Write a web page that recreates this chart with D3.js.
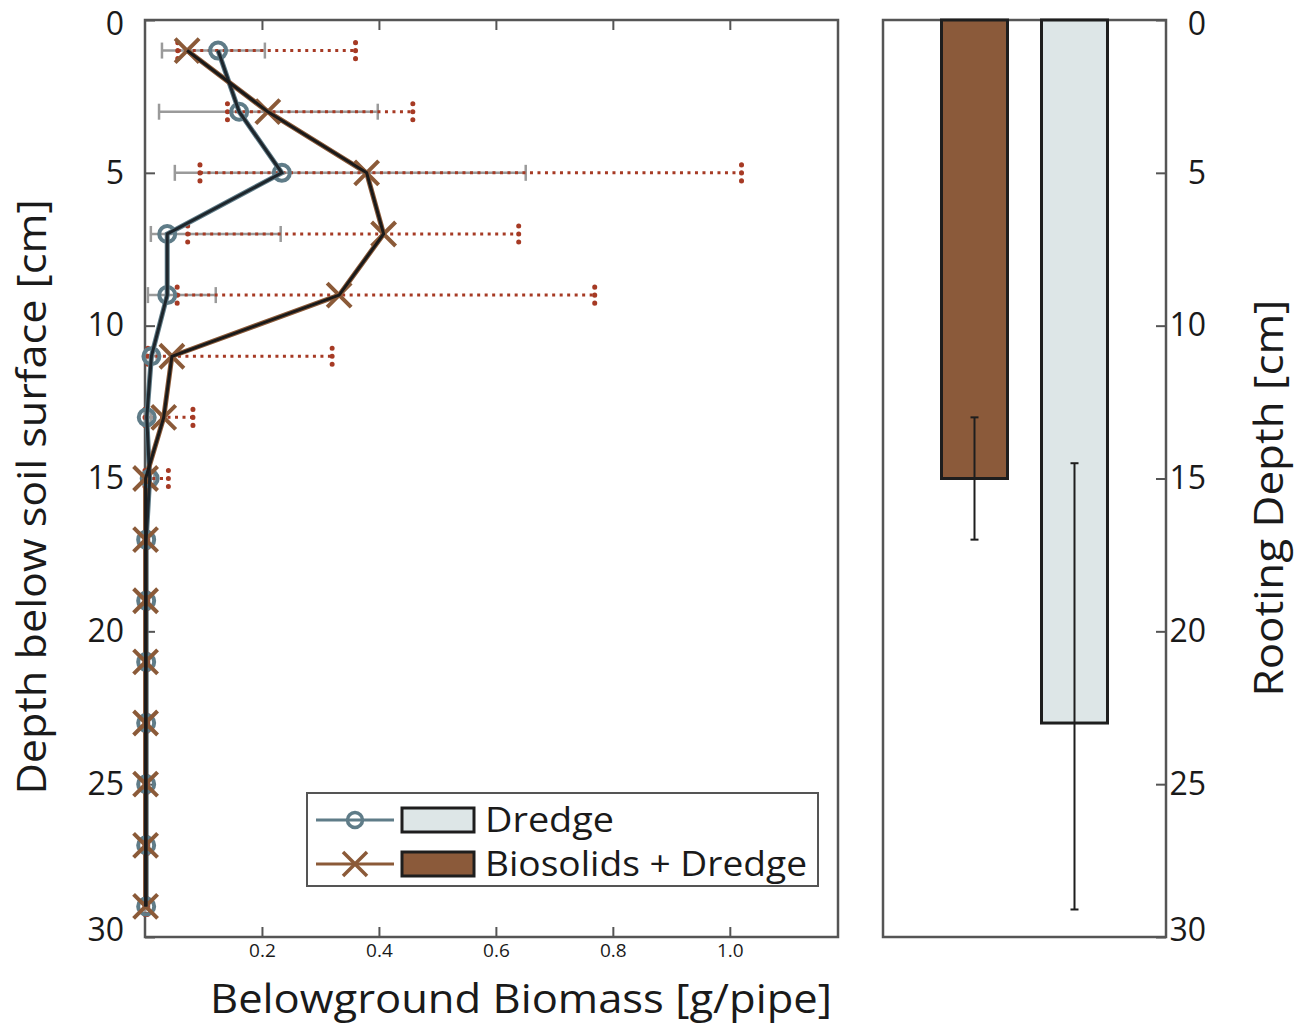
<!DOCTYPE html>
<html>
<head>
<meta charset="utf-8">
<script src="https://cdn.jsdelivr.net/npm/d3@7"></script>
<style>
  body { margin: 0; background: #fff; }
  text { font-family: "Open Sans", sans-serif; fill: #1a1a1a; }
</style>
</head>
<body>
<div id="chart"></div>
<script>
// depth profile of belowground biomass + rooting depth bars

var width = 1299, height = 1024;

// depth of each sample slice [cm]
var depths = [1, 3, 5, 7, 9, 11, 13, 15, 17, 19, 21, 23, 25, 27, 29];

// Dredge
var dredgeMean = [0.125, 0.161, 0.234, 0.038, 0.038, 0.011, 0.003, 0.008, 0.002, 0.002, 0.002, 0.002, 0.002, 0.002, 0.002];
var dredgeLow  = [0.029, 0.024, 0.051, 0.010, 0.005, 0.002, 0.000, 0.000, 0.000, 0.000, 0.000, 0.000, 0.000, 0.000, 0.000];
var dredgeHigh = [0.205, 0.398, 0.651, 0.232, 0.121, 0.020, 0.010, 0.016, 0.007, 0.007, 0.007, 0.007, 0.007, 0.007, 0.007];

// Biosolids + Dredge
var bioMean = [0.072, 0.210, 0.379, 0.408, 0.332, 0.046, 0.032, 0.001, 0.001, 0.001, 0.001, 0.001, 0.001, 0.001, 0.001];
var bioLow  = [0.056, 0.141, 0.094, 0.073, 0.055, 0.005, 0.000, 0.000, 0.000, 0.000, 0.000, 0.000, 0.000, 0.000, 0.000];
var bioHigh = [0.360, 0.458, 1.020, 0.639, 0.769, 0.320, 0.082, 0.040, 0.004, 0.004, 0.004, 0.004, 0.004, 0.004, 0.004];

// rooting depth
var rootCats = ["Biosolids + Dredge", "Dredge"];
var rootMean = [15.0, 23.0];
var rootLow  = [13.0, 14.5];
var rootHigh = [17.0, 29.1];

var xTicks = [0.2, 0.4, 0.6, 0.8, 1.0];
var yTicks = [0, 5, 10, 15, 20, 25, 30];

var cDredge = "#5f7c88", cBio = "#8b5a38", cRed = "#a63a24", cGrey = "#9a9a9a";
var cDredgeFill = "#dde6e7", cBioFill = "#8b5a3a";
var frame = "#555";

var svg = d3.select("div#chart")
    .append("svg")
    .attr("width", width)
    .attr("height", height);

// nudge the end labels inside like the original
function nudge(g) {
    g.selectAll(".tick text")
        .attr("dy", d => d == 0 ? "0.45em" : d == 30 ? "0.12em" : "0.32em");
}

// ---- left panel ----
var L = {x0: 145, x1: 838, y0: 20, y1: 937};
var x = d3.scaleLinear().domain([0, 1.185]).range([L.x0, L.x1]);
var y = d3.scaleLinear().domain([0, 30]).range([L.y0, L.y1]);

var left = svg.append("g");

left.append("g")
    .attr("transform", `translate(${L.x0},0)`)
    .call(d3.axisLeft(y).tickValues(yTicks).tickSize(-10).tickPadding(21))
    .call(g => g.select(".domain").remove())
    .call(g => g.selectAll("line").attr("stroke", frame).attr("stroke-width", 2))
    .call(g => g.selectAll("text").attr("font-size", 32).attr("fill", "#1a1a1a")
        .attr("font-family", "Open Sans"))
    .call(nudge);

left.append("g")
    .attr("transform", `translate(0,${L.y1})`)
    .call(d3.axisBottom(x).tickValues(xTicks).tickSize(-10).tickPadding(6)
        .tickFormat(d3.format(".1f")))
    .call(g => g.select(".domain").remove())
    .call(g => g.selectAll("line").attr("stroke", frame).attr("stroke-width", 2))
    .call(g => g.selectAll("text").attr("font-size", 19).attr("fill", "#1a1a1a")
        .attr("font-family", "Open Sans"));

left.append("g")
    .attr("transform", `translate(0,${L.y0})`)
    .call(d3.axisTop(x).tickValues(xTicks).tickSize(-10).tickFormat(""))
    .call(g => g.select(".domain").remove())
    .call(g => g.selectAll("line").attr("stroke", frame).attr("stroke-width", 2));

left.append("rect")
    .attr("x", L.x0).attr("y", L.y0)
    .attr("width", L.x1 - L.x0).attr("height", L.y1 - L.y0)
    .attr("fill", "none").attr("stroke", frame).attr("stroke-width", 2.5);

var dredge = depths.map((d, i) => ({d: d, m: dredgeMean[i], lo: dredgeLow[i], hi: dredgeHigh[i]}));
var bio = depths.map((d, i) => ({d: d, m: bioMean[i], lo: bioLow[i], hi: bioHigh[i]}));

// grey error bars (Dredge)
var ge = left.append("g").attr("stroke", cGrey).attr("stroke-width", 2.5);
ge.selectAll("line.h").data(dredge).enter().append("line")
    .attr("x1", d => x(d.lo)).attr("x2", d => x(d.hi))
    .attr("y1", d => y(d.d)).attr("y2", d => y(d.d));
ge.selectAll("line.c1").data(dredge).enter().append("line")
    .attr("x1", d => x(d.lo)).attr("x2", d => x(d.lo))
    .attr("y1", d => y(d.d) - 8).attr("y2", d => y(d.d) + 8);
ge.selectAll("line.c2").data(dredge).enter().append("line")
    .attr("x1", d => x(d.hi)).attr("x2", d => x(d.hi))
    .attr("y1", d => y(d.d) - 8).attr("y2", d => y(d.d) + 8);

// red dotted error bars (Biosolids)
var re = left.append("g").attr("stroke", cRed);
re.selectAll("line.h").data(bio).enter().append("line")
    .attr("x1", d => x(d.lo)).attr("x2", d => x(d.hi))
    .attr("y1", d => y(d.d)).attr("y2", d => y(d.d))
    .attr("stroke-width", 3).attr("stroke-dasharray", "3,4.5");
re.selectAll("line.c1").data(bio).enter().append("line")
    .attr("x1", d => x(d.lo)).attr("x2", d => x(d.lo))
    .attr("y1", d => y(d.d) - 8).attr("y2", d => y(d.d) + 8.5)
    .attr("stroke-width", 5).attr("stroke-linecap", "round").attr("stroke-dasharray", "0.1,7.9");
re.selectAll("line.c2").data(bio).enter().append("line")
    .attr("x1", d => x(d.hi)).attr("x2", d => x(d.hi))
    .attr("y1", d => y(d.d) - 8).attr("y2", d => y(d.d) + 8.5)
    .attr("stroke-width", 5).attr("stroke-linecap", "round").attr("stroke-dasharray", "0.1,7.9");

var line = d3.line().x(d => x(d.m)).y(d => y(d.d));

// coloured under-lines
left.append("path").datum(dredge).attr("d", line)
    .attr("fill", "none").attr("stroke", cDredge).attr("stroke-width", 5);
left.append("path").datum(bio).attr("d", line)
    .attr("fill", "none").attr("stroke", cBio).attr("stroke-width", 5);

// markers
left.selectAll("circle.dr").data(dredge).enter().append("circle")
    .attr("cx", d => x(d.m)).attr("cy", d => y(d.d)).attr("r", 8)
    .attr("fill", "none").attr("stroke", cDredge).attr("stroke-width", 4);

var xs = 12;
left.selectAll("path.bx").data(bio).enter().append("path")
    .attr("d", d => {
        var cx = x(d.m), cy = y(d.d);
        return `M${cx - xs},${cy - xs}L${cx + xs},${cy + xs}M${cx - xs},${cy + xs}L${cx + xs},${cy - xs}`;
    })
    .attr("fill", "none").attr("stroke", cBio).attr("stroke-width", 4);

// dark centre lines
left.append("path").datum(dredge).attr("d", line)
    .attr("fill", "none").attr("stroke", "#1e262c").attr("stroke-width", 3);
left.append("path").datum(bio).attr("d", line)
    .attr("fill", "none").attr("stroke", "#1a1a1a").attr("stroke-width", 3);

// legend
var lg = left.append("g");
lg.append("rect").attr("x", 307).attr("y", 793).attr("width", 511).attr("height", 93)
    .attr("fill", "#fff").attr("stroke", frame).attr("stroke-width", 2);
var legRows = [
    {name: "Dredge", line: cDredge, fill: cDredgeFill, mk: "o", cy: 820, len: 129},
    {name: "Biosolids + Dredge", line: cBio, fill: cBioFill, mk: "x", cy: 864, len: 322}
];
legRows.forEach(function(r) {
    lg.append("line").attr("x1", 316).attr("x2", 394).attr("y1", r.cy).attr("y2", r.cy)
        .attr("stroke", r.line).attr("stroke-width", 3);
    if (r.mk == "o") {
        lg.append("circle").attr("cx", 355).attr("cy", r.cy).attr("r", 7.5)
            .attr("fill", "none").attr("stroke", r.line).attr("stroke-width", 3.5);
    } else {
        lg.append("path")
            .attr("d", `M${355 - xs},${r.cy - xs}L${355 + xs},${r.cy + xs}M${355 - xs},${r.cy + xs}L${355 + xs},${r.cy - xs}`)
            .attr("stroke", r.line).attr("stroke-width", 3.5);
    }
    lg.append("rect").attr("x", 402).attr("y", r.cy - 12).attr("width", 72).attr("height", 24)
        .attr("fill", r.fill).attr("stroke", "#1e1e1e").attr("stroke-width", 3);
    lg.append("text").attr("x", 485).attr("y", r.cy + 12)
        .attr("font-size", 35).attr("textLength", r.len).attr("lengthAdjust", "spacingAndGlyphs")
        .text(r.name);
});

// axis titles
svg.append("text").attr("x", 521).attr("y", 1013).attr("text-anchor", "middle")
    .attr("font-size", 40).attr("textLength", 622).attr("lengthAdjust", "spacingAndGlyphs")
    .text("Belowground Biomass [g/pipe]");
svg.append("text").attr("transform", "translate(46,497) rotate(-90)")
    .attr("text-anchor", "middle")
    .attr("font-size", 40).attr("textLength", 595).attr("lengthAdjust", "spacingAndGlyphs")
    .text("Depth below soil surface [cm]");

// ---- right panel ----
var R = {x0: 883, x1: 1166};
var xb = d3.scalePoint().domain(rootCats).range([R.x0, R.x1]).padding(0.915);
var bw = 66;

var right = svg.append("g");

right.append("g")
    .attr("transform", `translate(${R.x1},0)`)
    .call(d3.axisRight(y).tickValues(yTicks).tickSize(-10).tickPadding(40))
    .call(g => g.select(".domain").remove())
    .call(g => g.selectAll("line").attr("stroke", frame).attr("stroke-width", 2))
    .call(g => g.selectAll("text").attr("font-size", 32).attr("fill", "#1a1a1a")
        .attr("font-family", "Open Sans").attr("text-anchor", "end"))
    .call(nudge);

right.append("rect")
    .attr("x", R.x0).attr("y", L.y0)
    .attr("width", R.x1 - R.x0).attr("height", L.y1 - L.y0)
    .attr("fill", "none").attr("stroke", frame).attr("stroke-width", 2.5);

var fills = [cBioFill, cDredgeFill];
right.selectAll("rect.bar").data(rootCats).enter().append("rect")
    .attr("x", d => xb(d) - bw / 2).attr("y", y(0))
    .attr("width", bw).attr("height", (d, i) => y(rootMean[i]) - y(0))
    .attr("fill", (d, i) => fills[i]).attr("stroke", "#1e1e1e").attr("stroke-width", 3);

var eb = right.append("g").attr("stroke", "#1e1e1e").attr("stroke-width", 2);
eb.selectAll("line.v").data(rootCats).enter().append("line")
    .attr("x1", d => xb(d)).attr("x2", d => xb(d))
    .attr("y1", (d, i) => y(rootLow[i])).attr("y2", (d, i) => y(rootHigh[i]));
eb.selectAll("line.lo").data(rootCats).enter().append("line")
    .attr("x1", d => xb(d) - 4).attr("x2", d => xb(d) + 4)
    .attr("y1", (d, i) => y(rootLow[i])).attr("y2", (d, i) => y(rootLow[i]));
eb.selectAll("line.hi").data(rootCats).enter().append("line")
    .attr("x1", d => xb(d) - 4).attr("x2", d => xb(d) + 4)
    .attr("y1", (d, i) => y(rootHigh[i])).attr("y2", (d, i) => y(rootHigh[i]));

svg.append("text").attr("transform", "translate(1283,498) rotate(-90)")
    .attr("text-anchor", "middle")
    .attr("font-size", 40).attr("textLength", 397).attr("lengthAdjust", "spacingAndGlyphs")
    .text("Rooting Depth [cm]");
</script>
</body>
</html>
